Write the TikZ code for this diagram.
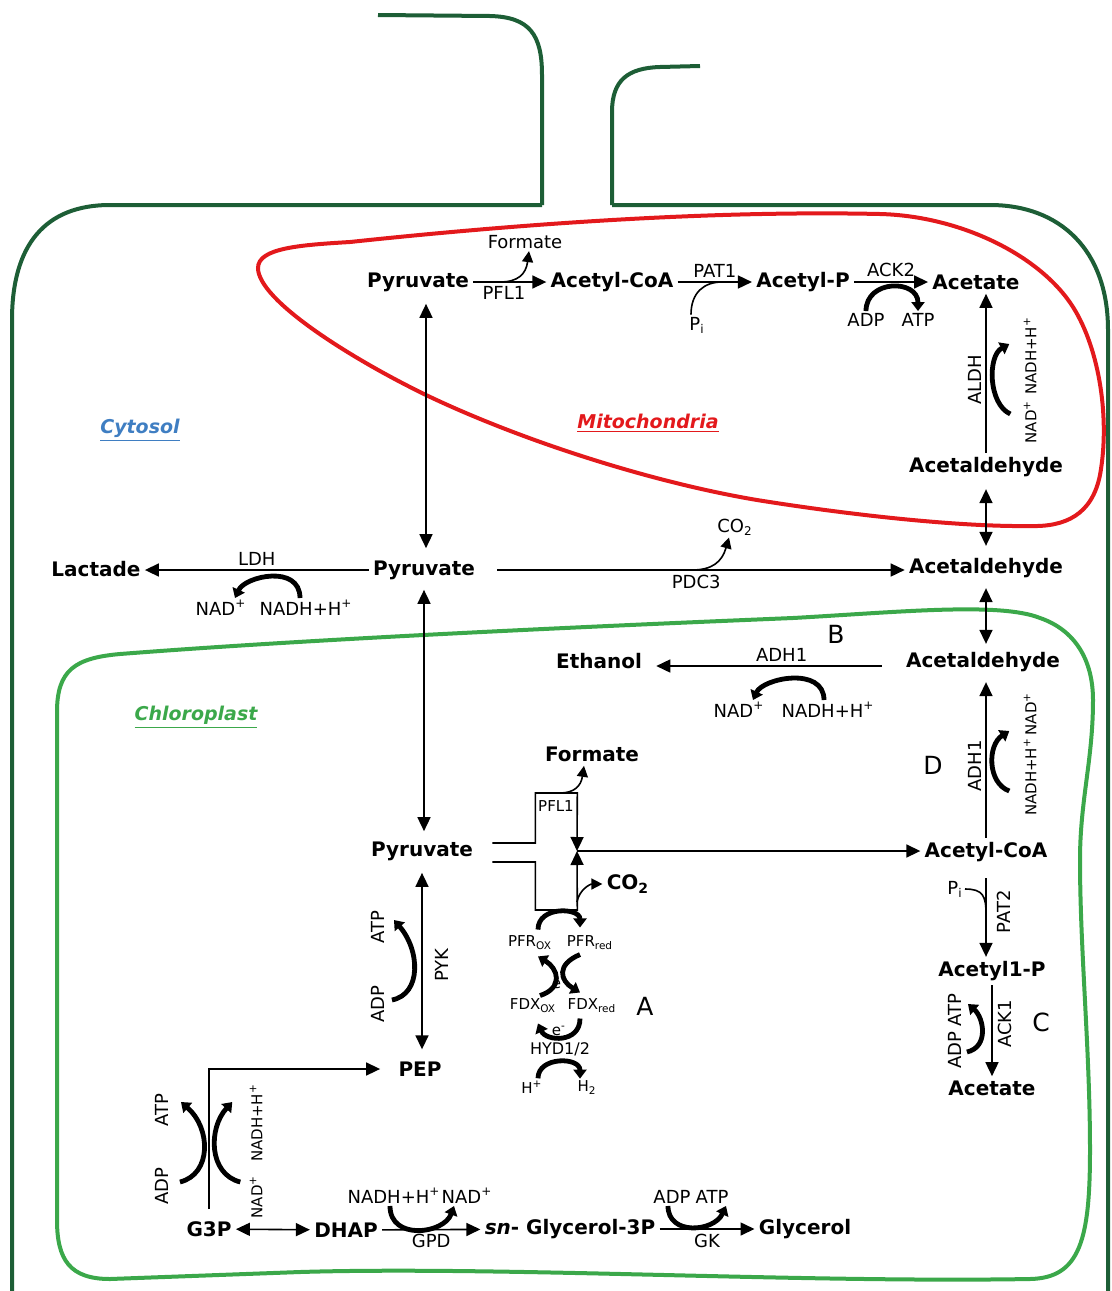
\documentclass[tikz,border=0pt]{standalone}
\usepackage{fontspec}
\setmainfont{DejaVu Sans}
\usepackage{tikz}
\usetikzlibrary{arrows.meta,positioning,calc}

\definecolor{cellgreen}{HTML}{1D5E36}
\definecolor{plastgreen}{HTML}{3BA84A}
\definecolor{mitored}{HTML}{E3191C}
\definecolor{cytoblue}{HTML}{3F7EC2}

\tikzset{
  met/.style={font=\bfseries\fontsize{10}{12}\selectfont, inner sep=2pt},
  lab/.style={font=\fontsize{9}{11}\selectfont, inner sep=1pt},
  cofr/.style={font=\fontsize{7.5}{9}\selectfont, inner sep=1pt},
  sml/.style={font=\fontsize{7.5}{9}\selectfont, inner sep=1pt},
  big/.style={font=\fontsize{12.5}{14}\selectfont},
  comp/.style={font=\bfseries\itshape\fontsize{9.5}{12}\selectfont},
  memb/.style={line width=2pt},
  rxn/.style={line width=0.8pt, -{Triangle[length=7pt,width=6.5pt]}},
  rxnb/.style={line width=0.8pt, {Triangle[length=7pt,width=6.5pt]}-{Triangle[length=7pt,width=6.5pt]}},
  bra/.style={line width=0.8pt, -{Triangle[length=5.5pt,width=5.5pt]}},
  co/.style={line width=2.4pt, -{Triangle[length=4.5pt,width=6.5pt]}},
  joinl/.style={line width=0.8pt},
}

\begin{document}
\begin{tikzpicture}[x=0.5pt, y=-0.5pt]
\useasboundingbox (0,0) rectangle (1112,1291);
\clip (0,0) rectangle (1112,1291);

% membranes
\draw[memb, cellgreen] (542,205) -- (542,75) .. controls (542,35) and (530,17) .. (490,16) -- (378,15);
\draw[memb, cellgreen] (612,205) -- (612,112) .. controls (612,80) and (628,68) .. (660,67) -- (700,66);
\draw[memb, cellgreen] (542,205) -- (110,205) .. controls (45,205) and (12,245) .. (12,320) -- (12,1300);
\draw[memb, cellgreen] (612,205) -- (990,205) .. controls (1060,205) and (1108,250) .. (1108,330) -- (1108,1300);
\draw[memb, mitored] (258,268) .. controls (258,248) and (300,245) .. (350,242)
  .. controls (500,226) and (700,210) .. (880,214)
  .. controls (960,216) and (1040,255) .. (1073,307)
  .. controls (1100,350) and (1110,420) .. (1100,475)
  .. controls (1092,515) and (1065,527) .. (1030,526)
  .. controls (960,527) and (850,515) .. (757,500)
  .. controls (650,482) and (520,440) .. (426,395)
  .. controls (350,358) and (258,300) .. cycle;
\draw[memb, plastgreen] (57,712) .. controls (57,670) and (75,658) .. (120,654)
  .. controls (300,640) and (550,628) .. (793,618)
  .. controls (900,612) and (1000,602) .. (1040,618)
  .. controls (1075,630) and (1093,660) .. (1093,700)
  .. controls (1093,760) and (1080,800) .. (1080,860)
  .. controls (1080,950) and (1090,1050) .. (1090,1150)
  .. controls (1090,1240) and (1080,1278) .. (1030,1279)
  .. controls (800,1283) and (500,1266) .. (300,1272)
  -- (110,1279) .. controls (70,1279) and (57,1260) .. (57,1220) -- cycle;

% compartments
\node[comp, text=cytoblue] (cyto) at (140,430) {\underline{Cytosol}};
\node[comp, text=mitored] (mito) at (648,423) {\underline{Mitochondria}};
\node[comp, text=plastgreen] (chlo) at (196,717) {\underline{Chloroplast}};

% mitochondria
\node[met] (pyrM) at (418,282) {Pyruvate};
\node[met] (acCoAM) at (612,282) {Acetyl-CoA};
\node[met] (acPM) at (803,282) {Acetyl-P};
\node[met] (acetM) at (976,282) {Acetate};
\node[met] (aldM) at (986,467) {Acetaldehyde};
\node[lab] (formM) at (525,242) {Formate};
\node[lab] (piM) at (697,325) {P\textsubscript{i}};
\node[lab] (adpM) at (866,320) {ADP};
\node[lab] (atpM) at (918,320) {ATP};
\node[lab, rotate=90] (aldh) at (975,380) {ALDH};
\node[cofr, rotate=90] (nadM) at (1030,422) {NAD\textsuperscript{+}};
\node[cofr, rotate=90] (nadhM) at (1030,356) {NADH+H\textsuperscript{+}};

\draw[rxn] (pyrM) -- (acCoAM) node[lab, pos=.42, below=1pt] {PFL1};
\coordinate (pflM) at (500,282);
\draw[bra] (pflM) .. controls (518,282) and (526,274) .. ([xshift=2pt]formM.south);
\draw[rxn] (acCoAM) -- (acPM) node[lab, midway, above=1pt] {PAT1};
\coordinate (patM) at (722,282);
\draw[joinl] ([xshift=-3pt]piM.north) .. controls +(0,-22) and +(-18,0) .. (patM);
\draw[rxn] (acPM) -- (acetM) node[lab, midway, above=1pt] {ACK2};
\draw[co] (adpM.north) .. controls +(0,-32) and +(0,-32) .. (atpM.north);
\draw[rxn] (aldM.north) -- (aldM.north |- acetM.south);
\draw[co] ([shift={(-11,-8)}]nadM.north) .. controls +(-22,-10) and +(-22,12) .. ([shift={(-12,-12)}]nadhM.north);

% cytosol
\node[met] (lac) at (96,569) {Lactade};
\node[met] (pyrC) at (424,570) {Pyruvate};
\node[met] (aldC) at (986,568) {Acetaldehyde};
\node[lab] (nadC) at (221,608) {NAD\textsuperscript{+}};
\node[lab] (nadhC) at (306,608) {NADH+H\textsuperscript{+}};
\node[lab] (co2C) at (735,527) {CO\textsubscript{2}};

\draw[rxnb, shorten <=4pt, shorten >=4pt] ([xshift=4pt]pyrM.south) -- ([xshift=4pt]pyrM.south |- pyrC.north);
\draw[rxn] (pyrC.west) -- (pyrC.west -| lac.east) node[lab, midway, above=1pt] {LDH};
\draw[co] ([xshift=-3pt]nadhC.north) .. controls +(0,-34) and +(10,-22) .. ([xshift=7pt]nadC.north);
\draw[rxn, shorten <=9pt] (pyrC.east) -- (pyrC.east -| aldC.west) node[lab, pos=.51, below=1pt] {PDC3};
\coordinate (pdcC) at (692,570);
\draw[bra] (pdcC) .. controls (712,570) and (722,562) .. ([xshift=-3pt]co2C.south);
\draw[rxnb, shorten <=4pt, shorten >=4pt] (aldM.south) -- (aldM.south |- aldC.north);

% chloroplast
\node[met] (aldP) at (983,662) {Acetaldehyde};
\node[met] (eth) at (599,661) {Ethanol};
\node[lab] (nadB) at (739,710) {NAD\textsuperscript{+}};
\node[lab] (nadhB) at (828,710) {NADH+H\textsuperscript{+}};
\node[big] (lblB) at (836,634) {B};
\draw[rxnb, shorten <=3pt, shorten >=2pt] (aldC.south) -- (aldC.south |- aldP.north);
\draw[rxn, shorten <=10pt, shorten >=5pt] ([yshift=-2pt]aldP.west) -- ([yshift=-2pt]aldP.west -| eth.east) node[lab, pos=.47, above=1pt] {ADH1};
\draw[co] ([xshift=-2pt]nadhB.north) .. controls +(0,-34) and +(10,-22) .. ([xshift=7pt]nadB.north);

\node[met] (acCoAP) at (986,852) {Acetyl-CoA};
\node[lab, rotate=90] (adh1D) at (975,766) {ADH1};
\node[big] (lblD) at (933,765) {D};
\node[cofr, rotate=90] (nadhD) at (1030,777) {NADH+H\textsuperscript{+}};
\node[cofr, rotate=90] (nadD) at (1030,714) {NAD\textsuperscript{+}};
\draw[rxn, shorten >=3pt] (acCoAP.north) -- (acCoAP.north |- aldP.south);
\draw[co] ([shift={(-12,14)}]nadhD.north) .. controls +(-22,-8) and +(-22,14) .. ([shift={(-12,17)}]nadD.north);

\node[met] (acP1) at (992,971) {Acetyl1-P};
\node[met] (acetP) at (992,1088) {Acetate};
\node[lab] (piP) at (955,889) {P\textsubscript{i}};
\node[lab, rotate=90] (pat2) at (1004,912) {PAT2};
\draw[rxn, shorten <=6pt] (acCoAP.south) -- (acCoAP.south |- acP1.north);
\coordinate (patP) at (986,914);
\draw[joinl] (piP.east) .. controls +(18,0) and +(0,-18) .. (patP);
\node[lab, rotate=90] (ack1) at (1005,1024) {ACK1};
\node[big] (lblC) at (1041,1022) {C};
\node[lab, rotate=90] (adpC) at (955,1050) {ADP};
\node[lab, rotate=90] (atpC) at (955,1010) {ATP};
\draw[rxn] (acP1.south) -- (acP1.south |- acetP.north);
\draw[co] ([shift={(3,2)}]adpC.south) .. controls +(22,-5) and +(16,14) .. ([shift={(4,-6)}]atpC.south);

% pyruvate in the chloroplast
\node[met] (pyrP) at (422,851) {Pyruvate};
\node[met] (formP) at (592,754) {Formate};
\node[met] (co2P) at (628,884) {CO\textsubscript{2}};
\node[sml] (pfl1P) at (556,806) {PFL1};
\draw[rxnb, shorten <=3pt, shorten >=3pt] (pyrC.south) -- (pyrC.south |- pyrP.north);
\coordinate (jn) at (577,851);
\draw[rxn] ([xshift=7.5pt,yshift=4pt]pyrP.east) -- ++(43,0) -- ++(0,-50) -- ++(42,0) -- (jn);
\draw[rxn] ([xshift=7.5pt,yshift=-5.5pt]pyrP.east) -- ++(43,0) -- ++(0,48) -- ++(42,0) -- (jn);
\draw[rxn] (jn) -- (jn -| acCoAP.west);
\coordinate (pflP) at (560,793);
\draw[bra] (pflP) .. controls (574,793) and (581,786) .. ([xshift=-4pt]formP.south);
\coordinate (pfrP) at (577,902);
\draw[bra] (pfrP) .. controls (579,890) and (590,884) .. (co2P.west);

\node[sml] (pfrox) at (530,943) {PFR\textsubscript{OX}};
\node[sml] (pfrred) at (590,943) {PFR\textsubscript{red}};
\node[sml] (fdxox) at (533,1006) {FDX\textsubscript{OX}};
\node[sml] (fdxred) at (592,1006) {FDX\textsubscript{red}};
\node[big] (lblA) at (645,1006) {A};
\node[sml] (e1) at (559,984) {e\textsuperscript{-}};
\node[sml] (e2) at (559,1031) {e\textsuperscript{-}};
\node[font=\fontsize{8}{10}\selectfont, inner sep=1pt] (hyd) at (560,1049) {HYD1/2};
\node[sml] (hplus) at (532,1087) {H\textsuperscript{+}};
\node[sml] (h2) at (587,1088) {H\textsubscript{2}};
\draw[co] ([shift={(8,-4)}]pfrox.north) .. controls +(0,-24) and +(0,-20) .. ([shift={(-10,-6)}]pfrred.north);
\draw[co] ([shift={(7,-1)}]fdxox.north) .. controls +(24,-8) and +(20,12) .. ([shift={(8,4)}]pfrox.south);
\draw[co] ([shift={(-10,2)}]pfrred.south) .. controls +(-24,10) and +(-20,-12) .. ([shift={(-12,-4)}]fdxred.north);
\draw[co] ([shift={(-12,3)}]fdxred.south) .. controls +(0,25) and +(8,18) .. ([shift={(5,8)}]fdxox.south);
\draw[co] ([xshift=3pt]hplus.north) .. controls +(0,-22) and +(0,-22) .. ([xshift=-3.5pt]h2.north);

% PEP and glycerol
\node[met] (pep) at (420,1069) {PEP};
\node[lab, rotate=90] (pyk) at (442,965) {PYK};
\node[lab, rotate=90] (adpP) at (378,1004) {ADP};
\node[lab, rotate=90] (atpP) at (378,927) {ATP};
\draw[rxnb, shorten <=4pt, shorten >=4pt] (pyrP.south) -- (pyrP.south |- pep.north);
\draw[co] ([shift={(5,-4)}]adpP.south) .. controls +(30,-6) and +(26,30) .. ([shift={(7,-7)}]atpP.south);

\node[met] (g3p) at (209,1229) {G3P};
\node[met] (dhap) at (346,1230) {DHAP};
\node[met] (g3pS) at (570,1229) {\textit{sn}- Glycerol-3P};
\node[met] (glyc) at (805,1229) {Glycerol};
\node[lab, rotate=90] (atpG) at (162,1110) {ATP};
\node[lab, rotate=90] (adpG) at (162,1186) {ADP};
\node[cofr, rotate=90] (nadG) at (256,1197) {NAD\textsuperscript{+}};
\node[cofr, rotate=90] (nadhG) at (256,1123) {NADH+H\textsuperscript{+}};
\draw[rxn, shorten <=4pt, shorten >=7pt] (g3p.north) |- (pep.west);
\draw[co] ([shift={(9,-4)}]adpG.south) .. controls +(32,-8) and +(30,26) .. ([shift={(10,-8)}]atpG.south);
\draw[co] ([shift={(-7,-15)}]nadG.north) .. controls +(-32,-8) and +(-24,26) .. ([shift={(-15,-21)}]nadhG.north);
\draw[rxnb] (g3p) -- (dhap);

\node[lab] (nadhGPD) at (394,1196) {NADH+H\textsuperscript{+}};
\node[lab] (nadGPD) at (467,1196) {NAD\textsuperscript{+}};
\node[lab] (adpGK) at (672,1197) {ADP};
\node[lab] (atpGK) at (712,1197) {ATP};
\draw[rxn] (dhap) -- (g3pS) node[lab, midway, below=1pt] {GPD};
\draw[co] ([xshift=-2pt]nadhGPD.south) .. controls +(0,35) and +(-10,28) .. ([xshift=-6.5pt]nadGPD.south);
\draw[rxn] (g3pS) -- (glyc) node[lab, midway, below=1pt] {GK};
\draw[co] ([xshift=-2pt]adpGK.south) .. controls +(0,30) and +(-12,26) .. ([xshift=7pt]atpGK.south);
\end{tikzpicture}
\end{document}
